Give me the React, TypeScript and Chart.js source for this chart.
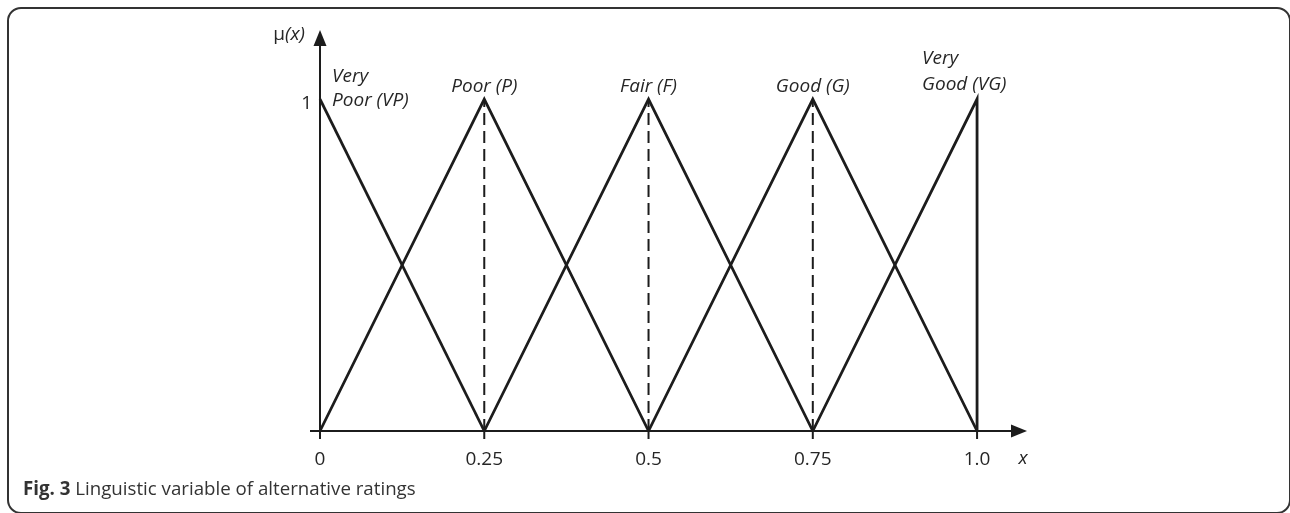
import React, { useEffect, useRef } from "react";
import { Chart, registerables } from "chart.js";

Chart.register(...registerables);

// ---- data ----
const categories = ["Very Poor (VP)", "Poor (P)", "Fair (F)", "Good (G)", "Very Good (VG)"];
const labelLines = [["Very", "Poor (VP)"], ["Poor (P)"], ["Fair (F)"], ["Good (G)"], ["Very", "Good (VG)"]];
const peaks = [0, 0.25, 0.5, 0.75, 1.0];
const vpPoints = [{ x: 0, y: 1 }, { x: 0.25, y: 0 }];
const pPoints = [{ x: 0, y: 0 }, { x: 0.25, y: 1 }, { x: 0.5, y: 0 }];
const fPoints = [{ x: 0.25, y: 0 }, { x: 0.5, y: 1 }, { x: 0.75, y: 0 }];
const gPoints = [{ x: 0.5, y: 0 }, { x: 0.75, y: 1 }, { x: 1.0, y: 0 }];
const vgPoints = [{ x: 0.75, y: 0 }, { x: 1.0, y: 1 }, { x: 1.0, y: 0 }];
const dashedAt = [0.25, 0.5, 0.75];
const xTickValues = [0, 0.25, 0.5, 0.75, 1.0];
const xTickLabels = ["0", "0.25", "0.5", "0.75", "1.0"];
const yTickValues = [1];
const yTickLabels = ["1"];

const INK = "#1c1c1c";
const TEXT = "#262626";
const FONT = "'Open Sans', 'Noto Sans', sans-serif";

const axesPlugin = {
  id: "fuzzyAxes",
  afterDatasetsDraw(chart: any) {
    const ctx = chart.ctx;
    const xs = chart.scales.x;
    const ys = chart.scales.y;
    const x0 = xs.getPixelForValue(0);
    const y0 = ys.getPixelForValue(0);
    const xEnd = chart.chartArea.right;
    const yEnd = chart.chartArea.top;
    ctx.save();
    ctx.strokeStyle = INK;
    ctx.fillStyle = INK;
    ctx.lineWidth = 2;
    // x axis
    ctx.beginPath();
    ctx.moveTo(x0 - 10, y0);
    ctx.lineTo(xEnd - 12, y0);
    ctx.stroke();
    ctx.beginPath();
    ctx.moveTo(xEnd, y0);
    ctx.lineTo(xEnd - 16, y0 - 6.5);
    ctx.lineTo(xEnd - 16, y0 + 6.5);
    ctx.closePath();
    ctx.fill();
    // y axis
    ctx.beginPath();
    ctx.moveTo(x0, y0 + 8);
    ctx.lineTo(x0, yEnd + 12);
    ctx.stroke();
    ctx.beginPath();
    ctx.moveTo(x0, yEnd);
    ctx.lineTo(x0 - 6.5, yEnd + 16);
    ctx.lineTo(x0 + 6.5, yEnd + 16);
    ctx.closePath();
    ctx.fill();
    // x tick marks
    xTickValues.forEach((v) => {
      const px = xs.getPixelForValue(v);
      ctx.beginPath();
      ctx.moveTo(px, y0);
      ctx.lineTo(px, y0 + 8);
      ctx.stroke();
    });
    // tick labels
    ctx.fillStyle = TEXT;
    ctx.font = `19px ${FONT}`;
    ctx.textAlign = "center";
    ctx.textBaseline = "middle";
    xTickValues.forEach((v, i) => {
      ctx.fillText(xTickLabels[i], xs.getPixelForValue(v), y0 + 29);
    });
    ctx.textAlign = "right";
    yTickValues.forEach((v, i) => {
      ctx.fillText(yTickLabels[i], x0 - 8, ys.getPixelForValue(v) + 5);
    });
    // axis titles
    ctx.font = `italic 19px ${FONT}`;
    ctx.textAlign = "center";
    ctx.fillText("x", xEnd - 4, y0 + 28);
    ctx.textAlign = "right";
    const italicPart = "(x)";
    const wItal = ctx.measureText(italicPart).width;
    ctx.fillText(italicPart, x0 - 15, yEnd + 5);
    ctx.font = `19px ${FONT}`;
    ctx.fillText("\u03bc", x0 - 15 - wItal, yEnd + 5);
    // series labels
    ctx.font = `italic 19px ${FONT}`;
    const top = ys.getPixelForValue(1);
    labelLines.forEach((lines, i) => {
      const px = xs.getPixelForValue(peaks[i]);
      if (i === 0) {
        ctx.textAlign = "left";
        ctx.fillText(lines[0], px + 12, top - 22);
        ctx.fillText(lines[1], px + 12, top + 2);
      } else if (i === labelLines.length - 1) {
        ctx.textAlign = "left";
        ctx.fillText(lines[0], px - 55, top - 40);
        ctx.fillText(lines[1], px - 55, top - 14);
      } else {
        ctx.textAlign = "center";
        ctx.fillText(lines[0], px, top - 12);
      }
    });
    ctx.restore();
  },
};

export default function App() {
  const ref = useRef<HTMLCanvasElement>(null);
  useEffect(() => {
    if (!ref.current) return;
    const series = [vpPoints, pPoints, fPoints, gPoints, vgPoints];
    const datasets: any[] = series.map((pts, i) => ({
      label: categories[i],
      data: pts,
      borderColor: INK,
      borderWidth: 2.8,
      pointRadius: 0,
      showLine: true,
      fill: false,
      tension: 0,
      clip: false,
      borderJoinStyle: "miter",
    }));
    dashedAt.forEach((v) => {
      datasets.push({
        label: "dash " + v,
        data: [{ x: v, y: 0 }, { x: v, y: 1 }],
        borderColor: INK,
        borderWidth: 2,
        borderDash: [12, 6],
        pointRadius: 0,
        showLine: true,
        clip: false,
      });
    });
    const chart = new Chart(ref.current, {
      type: "scatter",
      data: { datasets },
      options: {
        animation: false,
        responsive: false,
        maintainAspectRatio: false,
        layout: { padding: { left: 320, right: 263, top: 30, bottom: 82 } },
        plugins: { legend: { display: false }, tooltip: { enabled: false } },
        scales: {
          x: { type: "linear", min: 0, max: 1.076, display: false },
          y: { type: "linear", min: 0, max: 1.208, display: false },
        },
      },
      plugins: [axesPlugin],
    });
    return () => chart.destroy();
  }, []);

  return (
    <div style={{ position: "fixed", left: 0, top: 0, width: 1290, height: 513, background: "#fff" }}>
      <div
        style={{
          position: "absolute",
          left: 7,
          top: 7,
          width: 1280,
          height: 503,
          border: "2px solid #333",
          borderRadius: 14,
        }}
      />
      <canvas ref={ref} width={1290} height={513} style={{ position: "absolute", left: 0, top: 0 }} />
      <div
        style={{
          position: "absolute",
          left: 23,
          top: 475,
          fontFamily: FONT,
          fontSize: 18.7,
          lineHeight: "26px",
          color: "#333",
          whiteSpace: "nowrap",
        }}
      >
        <b>Fig. 3</b> Linguistic variable of alternative ratings
      </div>
    </div>
  );
}
